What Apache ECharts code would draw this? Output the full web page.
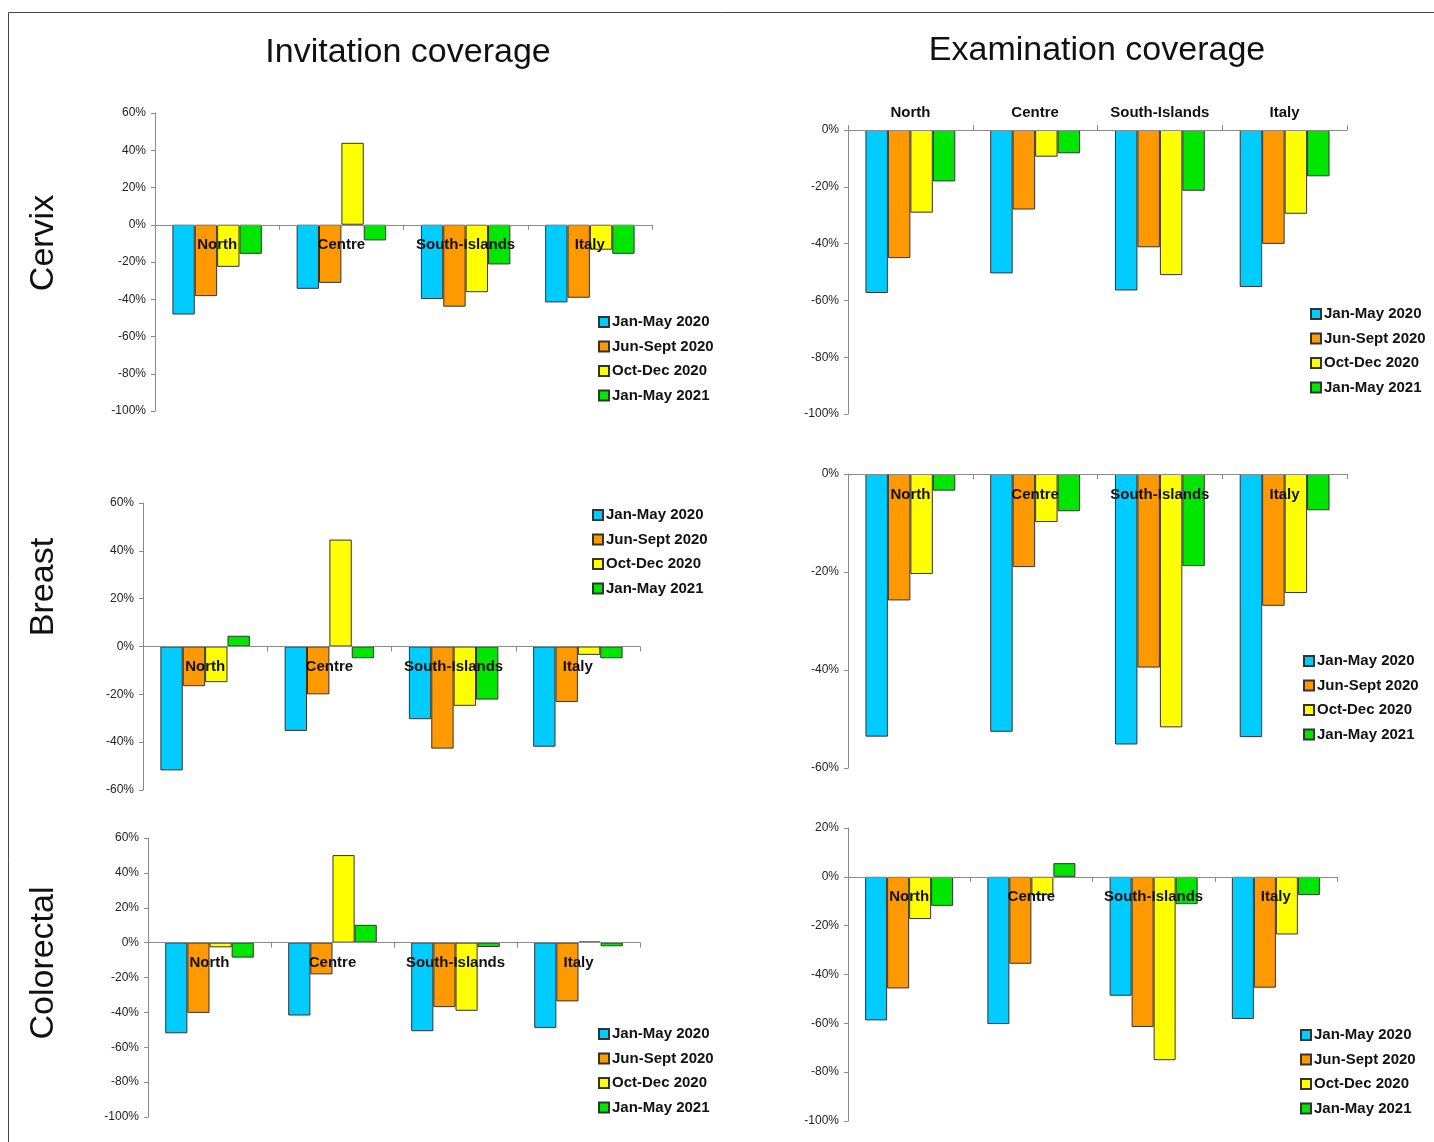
<!DOCTYPE html>
<html>
<head>
<meta charset="utf-8">
<style>
  html, body { margin: 0; padding: 0; background: #ffffff; }
  #chart { width: 1434px; height: 1142px; }
</style>
<script src="https://cdn.jsdelivr.net/npm/echarts@6/dist/echarts.min.js"></script>
</head>
<body>
<div id="chart"></div>
<script>
// ---------- DATA ----------
const categories = ['North', 'Centre', 'South-Islands', 'Italy'];
const periods = ['Jan-May 2020', 'Jun-Sept 2020', 'Oct-Dec 2020', 'Jan-May 2021'];
const colTitles = ['Invitation coverage', 'Examination coverage'];
const rowTitles = ['Cervix', 'Breast', 'Colorectal'];

// each row = one period, values for North, Centre, South-Islands, Italy (%)
const cervixInvitation = [
  [-48.2, -34.4, -39.9, -41.7],
  [-38.3, -31.2, -44.0, -39.2],
  [-22.6, 44.0, -36.2, -13.4],
  [-15.6, -8.4, -21.3, -15.6]
];
const cervixExamination = [
  [-57.4, -50.5, -56.5, -55.3],
  [-45.1, -28.0, -41.3, -40.1],
  [-29.1, -9.4, -51.1, -29.5],
  [-18.1, -8.2, -21.4, -16.3]
];
const breastInvitation = [
  [-51.8, -35.3, -30.4, -41.9],
  [-16.6, -20.0, -42.7, -23.2],
  [-14.9, 44.7, -24.8, -3.5],
  [4.5, -4.9, -22.2, -4.9]
];
const breastExamination = [
  [-53.6, -52.6, -55.2, -53.7],
  [-25.8, -19.0, -39.5, -26.9],
  [-20.4, -9.8, -51.7, -24.3],
  [-3.4, -7.6, -18.8, -7.4]
];
const colorectalInvitation = [
  [-52.0, -41.8, -50.8, -48.9],
  [-40.3, -18.2, -37.0, -33.7],
  [-2.7, 50.2, -39.1, 0.6],
  [-8.6, 10.2, -2.5, -2.1]
];
const colorectalExamination = [
  [-58.8, -60.3, -48.7, -58.2],
  [-45.7, -35.6, -61.5, -45.4],
  [-17.3, -7.5, -75.1, -23.6],
  [-11.9, 5.6, -11.2, -7.5]
];

// ---------- LAYOUT / STYLE ----------
const colors = ['#00ccff', '#ff9900', '#ffff00', '#00e600'];
const panels = [
  { data: cervixInvitation,      grid: [155, 113, 497, 298], y: [-100, 60], above: false, legend: [598, 314.5] },
  { data: cervixExamination,     grid: [848, 130, 499, 284], y: [-100, 0],  above: true,  legend: [1310, 306.5] },
  { data: breastInvitation,      grid: [143, 503, 497, 287], y: [-60, 60],  above: false, legend: [592, 507.5] },
  { data: breastExamination,     grid: [848, 474, 499, 294], y: [-60, 0],   above: false, legend: [1303, 653.5] },
  { data: colorectalInvitation,  grid: [148, 838, 492, 279], y: [-100, 60], above: false, legend: [598, 1026.5] },
  { data: colorectalExamination, grid: [848, 828, 489, 293], y: [-100, 20], above: false, legend: [1300, 1027.5] }
];

const axisColor = '#8a8a8a';
const grids = [], xAxes = [], yAxes = [], series = [], legends = [];

panels.forEach((p, i) => {
  const [gl, gt, gw, gh] = p.grid;
  grids.push({ left: gl, top: gt, width: gw, height: gh, containLabel: false });
  // distance from grid top to the zero line
  const zeroOffset = gh * p.y[1] / (p.y[1] - p.y[0]);
  xAxes.push({
    type: 'category', gridIndex: i, data: categories, z: 10,
    position: 'top',
    offset: -zeroOffset,
    axisLine: { onZero: false, lineStyle: { color: axisColor, width: 1 } },
    axisTick: { show: true, length: 5, inside: !p.above, lineStyle: { color: axisColor } },
    axisLabel: {
      interval: 0, inside: !p.above, margin: p.above ? 10 : 13,
      fontFamily: 'Liberation Sans, Arial, sans-serif', fontWeight: 'bold',
      fontSize: 15, color: '#111'
    },
    splitLine: { show: false }
  });
  yAxes.push({
    type: 'value', gridIndex: i, min: p.y[0], max: p.y[1], interval: 20,
    axisLine: { show: true, lineStyle: { color: axisColor, width: 1 } },
    axisTick: { show: true, length: 4, lineStyle: { color: axisColor } },
    axisLabel: {
      formatter: v => v + '%', fontFamily: 'Liberation Sans, Arial, sans-serif',
      fontSize: 12, color: '#222', margin: 9
    },
    splitLine: { show: false }
  });
  p.data.forEach((vals, k) => {
    series.push({
      type: 'bar', name: periods[k], xAxisIndex: i, yAxisIndex: i,
      data: vals, barGap: '0%', barCategoryGap: '28%',
      itemStyle: { color: colors[k], borderColor: '#333', borderWidth: 1 },
      emphasis: { disabled: true },
      animation: false
    });
  });
  legends.push({
    orient: 'vertical', left: p.legend[0], top: p.legend[1],
    data: periods, icon: 'rect', itemWidth: 10, itemHeight: 10, itemGap: 9.5,
    padding: 0,
    textStyle: {
      fontFamily: 'Liberation Sans, Arial, sans-serif', fontWeight: 'bold',
      fontSize: 15, color: '#111', lineHeight: 15, padding: [0, 0, 0, -2]
    },
    selectedMode: false
  });
});

const graphics = [
  { type: 'line', shape: { x1: 8.5, y1: 12.5, x2: 8.5, y2: 1142 }, style: { stroke: '#444', lineWidth: 1 } },
  { type: 'line', shape: { x1: 8.5, y1: 12.5, x2: 1434, y2: 12.5 }, style: { stroke: '#444', lineWidth: 1 } },
  { type: 'text', x: 408, y: 53, style: { text: colTitles[0], font: '34px "Liberation Sans", Arial, sans-serif', fill: '#111', textAlign: 'center', textVerticalAlign: 'middle' } },
  { type: 'text', x: 1097, y: 51, style: { text: colTitles[1], font: '34px "Liberation Sans", Arial, sans-serif', fill: '#111', textAlign: 'center', textVerticalAlign: 'middle' } }
];
const rowCenters = [243, 587, 963];
rowTitles.forEach((t, r) => {
  graphics.push({
    type: 'text', x: 44, y: rowCenters[r], rotation: Math.PI / 2,
    style: { text: t, font: '34px "Liberation Sans", Arial, sans-serif', fill: '#111', textAlign: 'center', textVerticalAlign: 'middle' }
  });
});

const chart = echarts.init(document.getElementById('chart'), null, { renderer: 'canvas' });
chart.setOption({
  backgroundColor: '#ffffff',
  animation: false,
  grid: grids, xAxis: xAxes, yAxis: yAxes, series: series, legend: legends,
  graphic: graphics
});
</script>
</body>
</html>
